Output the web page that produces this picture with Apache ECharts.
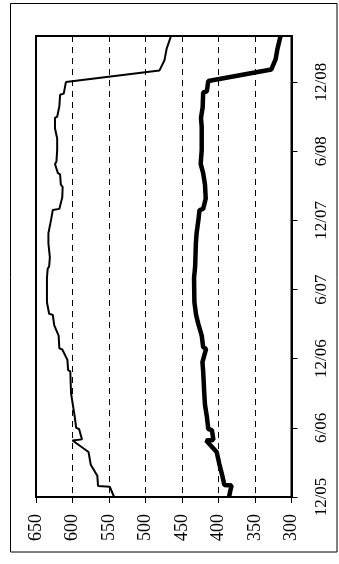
<!DOCTYPE html>
<html>
<head>
<meta charset="utf-8">
<script src="https://cdn.jsdelivr.net/npm/echarts@6/dist/echarts.min.js"></script>
<style>
  html, body { margin: 0; padding: 0; background: #fff; }
  #chart { width: 339px; height: 564px; }
</style>
</head>
<body>
<div id="chart"></div>
<script>
// Time is measured in months from December 2005 (0 = 12/05, 40 = 4/09).
const monthTicks = [0, 6, 12, 18, 24, 30, 36];
const monthTickLabels = ['12/05', '6/06', '12/06', '6/07', '12/07', '6/08', '12/08'];

// Upper (thin) series
const upperMonths = [0.0, 0.9, 0.95, 1.85, 2.8, 3.9, 4.9, 5.0, 5.9, 6.0, 7.0, 7.8, 9.0, 10.9, 11.0, 11.9,
  12.8, 12.9, 14.0, 14.9, 15.8, 15.9, 16.9, 19.0, 19.8, 20.0, 20.8, 22.0, 22.9, 23.0, 24.0, 24.9,
  25.0, 26.0, 26.9, 27.1, 28.0, 28.1, 28.9, 29.1, 30.1, 31.1, 32.0, 32.9, 33.0, 33.9, 34.9, 35.0,
  36.0, 37.0, 37.9, 38.9, 40.0];
const upperValues = [543, 549, 565, 566, 575, 578, 600, 587, 591, 595, 597, 599, 602, 603, 606, 607,
  614, 618, 619, 625, 627, 632, 635, 635, 634, 632, 631, 633, 633, 631, 629.5, 627,
  618, 614, 613.5, 616, 617, 620, 624, 622, 621, 621, 624, 624, 621, 618, 617, 612,
  609, 481, 474, 471, 465];

// Lower (thick) series
const lowerMonths = [0.0, 0.5, 1.0, 1.05, 1.9, 2.9, 3.9, 4.9, 4.95, 5.8, 5.9, 7.0, 8.0, 9.0, 10.9, 11.7,
  12.85, 13.0, 14.0, 15.0, 15.8, 16.9, 19.0, 20.0, 22.0, 22.9, 24.0, 24.9, 25.0, 25.9, 27.1, 28.1,
  28.9, 30.1, 32.1, 32.9, 33.8, 35.1, 35.2, 36.1, 37.1, 38.0, 38.8, 40.0];
const lowerValues = [385.5, 384, 382, 392, 395, 399, 402.5, 417, 407, 409, 414, 416, 418.5, 419.5, 421, 422,
  417, 421, 423, 427.6, 430.7, 433, 433.5, 432, 431, 430, 427.6, 426, 421, 417.5, 418.5, 421,
  424.4, 423, 423, 424, 421.7, 421, 416, 414, 327.6, 321.7, 319.5, 315];

const toPairs = (months, values) => months.map((m, i) => [values[i], m]);

const FONT = 'Liberation Serif';
const chart = echarts.init(document.getElementById('chart'), null, { renderer: 'canvas' });

chart.setOption({
  animation: false,
  backgroundColor: '#fff',
  // outer frame around the whole figure
  graphic: [{
    type: 'rect',
    shape: { x: 10.5, y: 3.5, width: 326.5, height: 548.5 },
    style: { fill: 'none', stroke: '#000', lineWidth: 1 },
    silent: true,
    z: 0
  }],
  grid: {
    left: 36, right: 47.5, top: 36, bottom: 67,
    show: true, borderColor: '#000', borderWidth: 2, backgroundColor: 'transparent'
  },
  xAxis: {
    type: 'value',
    inverse: true,
    min: 300, max: 650, interval: 50,
    position: 'bottom',
    axisLine: { show: true, lineStyle: { color: '#000', width: 2 } },
    axisTick: { show: true, length: 6, lineStyle: { color: '#000', width: 1 } },
    axisLabel: { rotate: 90, margin: 17, color: '#000', fontFamily: FONT, fontSize: 18 },
    splitLine: { show: true, lineStyle: { color: '#000', width: 1, type: [6, 5] } }
  },
  yAxis: {
    type: 'value',
    position: 'right',
    min: 0, max: 40, interval: 6,
    axisLine: { show: true, lineStyle: { color: '#000', width: 2 } },
    axisTick: { show: true, length: 6, customValues: monthTicks, lineStyle: { color: '#000', width: 1 } },
    axisLabel: {
      rotate: 90, margin: 22, color: '#000', fontFamily: FONT, fontSize: 17,
      customValues: monthTicks,
      formatter: v => {
        const i = monthTicks.indexOf(v);
        return i >= 0 ? monthTickLabels[i] : '';
      }
    },
    splitLine: { show: false }
  },
  series: [
    {
      type: 'line',
      data: toPairs(upperMonths, upperValues),
      showSymbol: false,
      symbol: 'none',
      lineStyle: { color: '#000', width: 2 },
      z: 3
    },
    {
      type: 'line',
      data: toPairs(lowerMonths, lowerValues),
      showSymbol: false,
      symbol: 'none',
      lineStyle: { color: '#000', width: 4.5 },
      z: 3
    }
  ]
});
</script>
</body>
</html>
